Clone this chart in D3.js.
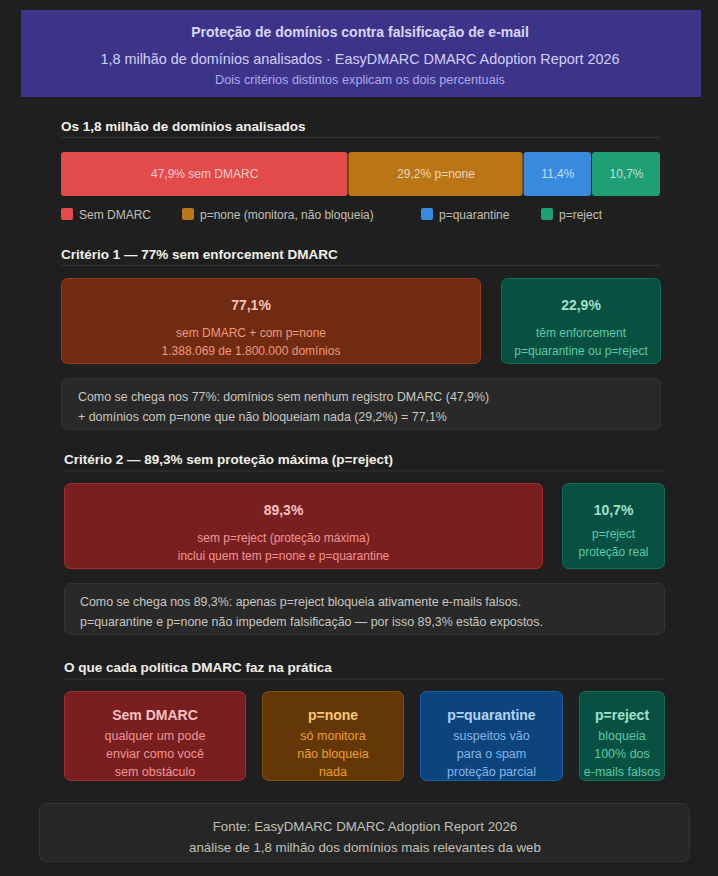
<!DOCTYPE html>
<html>
<head>
<meta charset="utf-8">
<script src="https://cdn.jsdelivr.net/npm/d3@7"></script>
<style>
  html, body { margin: 0; padding: 0; background: #1f1f1f; }
  svg { display: block; font-family: "Liberation Sans", Arial, sans-serif; }
</style>
</head>
<body>
<div id="chart"></div>
<script>
// ---- data ----
var categories = ["Sem DMARC", "p=none", "p=quarantine", "p=reject"];
var shares = [47.9, 29.2, 11.4, 10.7];
var barLabels = ["47,9% sem DMARC", "29,2% p=none", "11,4%", "10,7%"];
var legendLabels = ["Sem DMARC", "p=none (monitora, não bloqueia)", "p=quarantine", "p=reject"];
var segColors = ["#e24b4a", "#ba7517", "#378add", "#1d9e75"];

var crit1Values = ["77,1%", "22,9%"];
var crit1Lines = [["sem DMARC + com p=none", "1.388.069 de 1.800.000 domínios"],
                  ["têm enforcement", "p=quarantine ou p=reject"]];
var crit1Note = ["Como se chega nos 77%: domínios sem nenhum registro DMARC (47,9%)",
                 "+ domínios com p=none que não bloqueiam nada (29,2%) = 77,1%"];

var crit2Values = ["89,3%", "10,7%"];
var crit2Lines = [["sem p=reject (proteção máxima)", "inclui quem tem p=none e p=quarantine"],
                  ["p=reject", "proteção real"]];
var crit2Note = ["Como se chega nos 89,3%: apenas p=reject bloqueia ativamente e-mails falsos.",
                 "p=quarantine e p=none não impedem falsificação — por isso 89,3% estão expostos."];

var policyTitles = ["Sem DMARC", "p=none", "p=quarantine", "p=reject"];
var policyLines = [["qualquer um pode", "enviar como você", "sem obstáculo"],
                   ["só monitora", "não bloqueia", "nada"],
                   ["suspeitos vão", "para o spam", "proteção parcial"],
                   ["bloqueia", "100% dos", "e-mails falsos"]];

var headerLines = ["Proteção de domínios contra falsificação de e-mail",
                   "1,8 milhão de domínios analisados · EasyDMARC DMARC Adoption Report 2026",
                   "Dois critérios distintos explicam os dois percentuais"];
var sectionTitles = ["Os 1,8 milhão de domínios analisados",
                     "Critério 1 — 77% sem enforcement DMARC",
                     "Critério 2 — 89,3% sem proteção máxima (p=reject)",
                     "O que cada política DMARC faz na prática"];
var footerLines = ["Fonte: EasyDMARC DMARC Adoption Report 2026",
                   "análise de 1,8 milhão dos domínios mais relevantes da web"];

// ---- palettes for boxes ----
var tone = {
  coral: { fill: "#712b13", stroke: "#993c1d", big: "#f5c4b3", text: "#f0997b" },
  red:   { fill: "#791f1f", stroke: "#a32d2d", big: "#f7c1c1", text: "#f09595" },
  amber: { fill: "#633806", stroke: "#854f0b", big: "#fac775", text: "#ef9f27" },
  blue:  { fill: "#0c447c", stroke: "#185fa5", big: "#b5d4f4", text: "#85b7eb" },
  teal:  { fill: "#085041", stroke: "#0f6e56", big: "#9fe1cb", text: "#5dcaa5" }
};

var W = 718, H = 876;
var svg = d3.select("#chart").append("svg").attr("width", W).attr("height", H);
svg.append("rect").attr("width", W).attr("height", H).attr("fill", "#1f1f1f");

function txt(g, x, y, s, size, color, weight, anchor) {
  return g.append("text")
    .attr("x", x).attr("y", y)
    .attr("dominant-baseline", "central")
    .attr("text-anchor", anchor || "middle")
    .style("font-size", size + "px")
    .style("font-weight", weight || "normal")
    .attr("fill", color)
    .text(s);
}

function box(x0, y0, x1, y1, fill, stroke, r) {
  svg.append("rect")
    .attr("x", x0 + 0.5).attr("y", y0 + 0.5)
    .attr("width", x1 - x0 - 1).attr("height", y1 - y0 - 1)
    .attr("rx", r).attr("fill", fill)
    .attr("stroke", stroke).attr("stroke-width", 1);
}

function section(title, x0, x1, y, lineY) {
  txt(svg, x0, y, title, 13.5, "#f0efe9", "bold", "start");
  svg.append("line").attr("x1", x0).attr("x2", x1).attr("y1", lineY).attr("y2", lineY)
    .attr("stroke", "#2c2c2c").attr("stroke-width", 1.5);
}

// ---- header ----
svg.append("rect").attr("x", 21).attr("y", 10).attr("width", 680).attr("height", 87).attr("fill", "#3c3489");
txt(svg, 360, 31.5, headerLines[0], 14, "#d9d6fa", "bold");
txt(svg, 360, 59, headerLines[1], 14.4, "#d3d0f8");
txt(svg, 360, 79.5, headerLines[2], 12.7, "#afa9ec");

// ---- section 1: stacked bar ----
section(sectionTitles[0], 61, 661, 126.5, 137.5);

var x = d3.scaleLinear().domain([0, 100]).range([61, 661]);
var starts = [0].concat(Array.from(d3.cumsum(shares)).slice(0, -1));
var segs = shares.map(function(v, i) {
  return { cat: categories[i], start: starts[i], value: v, label: barLabels[i], color: segColors[i],
           last: i === shares.length - 1 };
});
// the last segment fills the rest of the track
function segX1(d) { return d.last ? x.range()[1] : x(d.start + d.value); }

var bar = svg.append("g");
bar.selectAll("rect").data(segs).enter().append("rect")
  .attr("x", function(d) { return x(d.start); })
  .attr("y", 152)
  .attr("width", function(d) { return segX1(d) - x(d.start) - 1; })
  .attr("height", 44)
  .attr("rx", 3)
  .attr("fill", function(d) { return d.color; });
bar.selectAll("text").data(segs).enter().append("text")
  .attr("x", function(d) { return (x(d.start) + segX1(d)) / 2; })
  .attr("y", 174)
  .attr("dominant-baseline", "central")
  .attr("text-anchor", "middle")
  .style("font-size", "12px")
  .attr("fill", "rgba(255,255,255,0.72)")
  .text(function(d) { return d.label; });

// legend
var legendX = [61, 182, 421, 541];
var legend = svg.append("g");
legendLabels.forEach(function(l, i) {
  legend.append("rect").attr("x", legendX[i]).attr("y", 208).attr("width", 12).attr("height", 12)
    .attr("rx", 2).attr("fill", segColors[i]);
  txt(legend, legendX[i] + 18, 214.5, l, 12, "#c2c0b6", "normal", "start");
});

// ---- criterion boxes ----
function critBox(x0, x1, y0, y1, t, value, lines, bigY, lineYs, padRight) {
  box(x0, y0, x1, y1, t.fill, t.stroke, 6);
  var cx = (x0 + x1 - (padRight || 0)) / 2;
  txt(svg, cx, bigY, value, 14, t.big, "bold");
  lines.forEach(function(l, i) { txt(svg, cx, lineYs[i], l, 12, t.text); });
}
function note(x0, x1, y0, y1, lines, lineYs, tx) {
  box(x0, y0, x1, y1, "#292929", "#333333", 6);
  lines.forEach(function(l, i) { txt(svg, tx, lineYs[i], l, 12.4, "#c8c7c0", "normal", "start"); });
}

section(sectionTitles[1], 61, 661, 254, 265.5);
critBox(61, 481, 278, 364, tone.coral, crit1Values[0], crit1Lines[0], 305, [333, 351], 40);
critBox(501, 661, 278, 364, tone.teal, crit1Values[1], crit1Lines[1], 305, [333, 351]);
note(61, 661, 378, 430, crit1Note, [397, 417], 78);

section(sectionTitles[2], 64, 665, 459, 471);
critBox(64, 543, 483, 569, tone.red, crit2Values[0], crit2Lines[0], 509.5, [538, 556], 40);
critBox(562, 665, 483, 569, tone.teal, crit2Values[1], crit2Lines[1], 509.5, [534, 552]);
note(64, 665, 583, 635, crit2Note, [602, 622], 80);

// ---- policy cards ----
section(sectionTitles[3], 64, 665, 667, 679.5);
var cardTones = [tone.red, tone.amber, tone.blue, tone.teal];
var cardWeights = [182, 142, 143, 86];   // relative flex widths
var gap = 16;
var unit = d3.scaleLinear().domain([0, d3.sum(cardWeights)]).range([0, 601 - gap * 3]);
var cx0 = 64;
policyTitles.forEach(function(title, i) {
  var w = unit(cardWeights[i]);
  var t = cardTones[i];
  box(cx0, 691, cx0 + w, 781, t.fill, t.stroke, 6);
  var c = cx0 + w / 2;
  txt(svg, c, 715, title, 14, t.big, "bold");
  policyLines[i].forEach(function(l, j) { txt(svg, c, 736 + j * 18, l, 12.5, t.text); });
  cx0 += w + gap;
});

// ---- footer ----
box(39, 803, 690, 862, "#262626", "#333333", 7);
txt(svg, 365, 826, footerLines[0], 13.3, "#c2c0b6");
txt(svg, 365, 847, footerLines[1], 13.3, "#c2c0b6");
</script>
</body>
</html>
